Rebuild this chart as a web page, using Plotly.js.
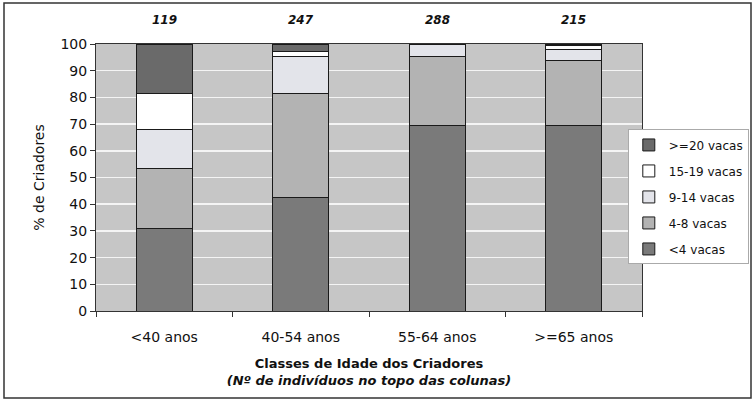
<!DOCTYPE html>
<html>
<head>
<meta charset="utf-8">
<script src="https://cdn.plot.ly/plotly-3.0.1.min.js"></script>
<style>html,body{margin:0;padding:0;background:#fff;}#chart{width:752px;height:408px;}</style>
</head>
<body>
<div id="chart"></div>
<script>
const categories = ['<40 anos', '40-54 anos', '55-64 anos', '>=65 anos'];
const counts = [119, 247, 288, 215];
const seriesNames = ['<4 vacas', '4-8 vacas', '9-14 vacas', '15-19 vacas', '>=20 vacas'];
const lt4 = [31, 42.5, 69.3, 69.3];
const v4_8 = [22.5, 39, 26.2, 24.5];
const v9_14 = [14.5, 13.7, 4.5, 4.2];
const v15_19 = [13.5, 2, 0, 1.5];
const ge20 = [18.5, 2.8, 0, 0.5];
const seriesValues = [lt4, v4_8, v9_14, v15_19, ge20];
const colors = ['#7a7a7a', '#b3b3b3', '#e3e4ea', '#ffffff', '#6a6a6a'];

const font = 'DejaVu Sans, Verdana, sans-serif';

const traces = seriesValues.map((vals, i) => ({
  type: 'bar',
  name: seriesNames[i],
  x: categories,
  y: vals,
  legendgroup: 'g' + i,
  legendrank: seriesValues.length - i,
  marker: {color: colors[i], line: {color: '#1a1a1a', width: 1}},
  hoverinfo: 'skip'
}));

const annotations = categories.map((c, i) => ({
  x: c, y: 100, xref: 'x', yref: 'y', yshift: 24,
  text: '<b><i>' + counts[i] + '</i></b>',
  showarrow: false, font: {family: font, size: 12, color: '#111'}
}));

const layout = {
  width: 752, height: 408,
  margin: {l: 96, r: 110, t: 44, b: 97, autoexpand: false},
  paper_bgcolor: '#ffffff',
  plot_bgcolor: '#c6c6c6',
  barmode: 'stack',
  bargap: 0.59,
  showlegend: true,
  font: {family: font, size: 14, color: '#111'},
  xaxis: {
    type: 'category',
    tickson: 'boundaries',
    ticks: 'outside', ticklen: 5, tickcolor: '#333',
    ticklabelstandoff: 13,
    showline: true, linecolor: '#333', linewidth: 1, mirror: true,
    showgrid: false,
    tickfont: {family: font, size: 14, color: '#111'},
    title: {
      text: '<b>Classes de Idade dos Criadores</b><br><b><i>(Nº de indivíduos no topo das colunas)</i></b>',
      font: {family: font, size: 13, color: '#111'},
      standoff: 15
    },
    automargin: false
  },
  yaxis: {
    range: [0, 100], dtick: 10,
    ticks: 'outside', ticklen: 5, tickcolor: '#333',
    showline: true, linecolor: '#333', linewidth: 1, mirror: true,
    showgrid: true, gridcolor: '#f4f4f4', gridwidth: 1.5,
    zeroline: false,
    tickfont: {family: font, size: 14, color: '#111'},
    title: {text: '% de Criadores', font: {family: font, size: 14, color: '#111'}, standoff: 12},
    automargin: false
  },
  legend: {
    x: 0.974, xanchor: 'left', y: 0.68, yanchor: 'top',
    traceorder: 'grouped', tracegroupgap: 7,
    bgcolor: '#ffffff', bordercolor: '#aaaaaa', borderwidth: 1,
    itemwidth: 30,
    font: {family: font, size: 12, color: '#111'}
  },
  annotations: annotations,
  shapes: [{
    type: 'rect', xref: 'paper', yref: 'paper',
    x0: (4 - 96) / 546, x1: (751 - 96) / 546,
    y0: (311 - 398) / 267, y1: (311 - 3) / 267,
    line: {color: '#333', width: 1.5}, fillcolor: 'rgba(0,0,0,0)', layer: 'below'
  }]
};

Plotly.newPlot('chart', traces, layout, {staticPlot: true, displayModeBar: false});
</script>
</body>
</html>
